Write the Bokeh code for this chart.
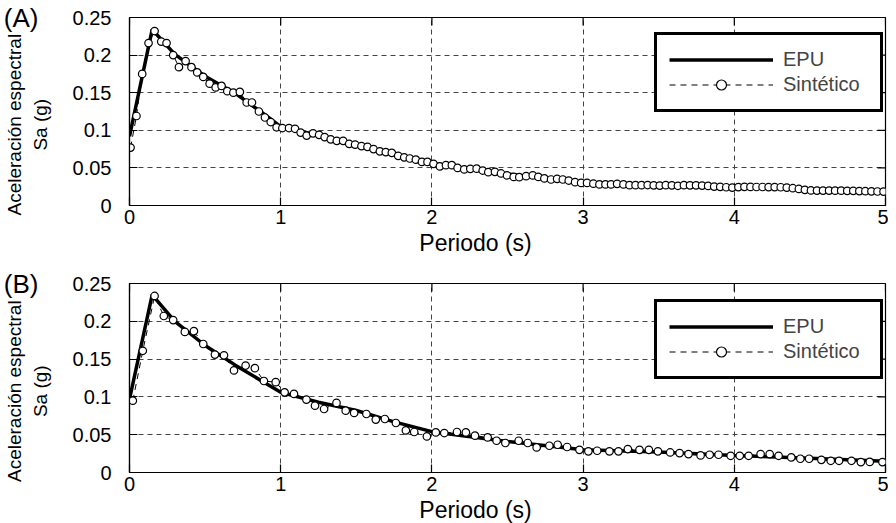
import math
from bokeh.plotting import figure
from bokeh.layouts import column
from bokeh.models import Range1d, FixedTicker, Legend, LegendItem, LinearAxis
from bokeh.embed import file_html
from bokeh.resources import INLINE

# ---------------- data ----------------
x_ticks = [0, 1, 2, 3, 4, 5]
y_ticks = [0, 0.05, 0.1, 0.15, 0.2, 0.25]
y_tick_labels = ["0", "0.05", "0.1", "0.15", "0.2", "0.25"]
y_label_lines = ["Aceleración espectral", "Sa (g)"]
x_label = "Periodo (s)"
panel_tags = ["(A)", "(B)"]
series_names = ["EPU", "Sintético"]

# Panel A
epu_t_a = [0, 0.15, 0.3, 0.5, 0.7, 0.9, 1.0, 1.25, 1.5, 1.75, 2.0, 2.25, 2.5, 2.75,
           3.0, 3.25, 3.5, 3.75, 4.0, 4.25, 4.5, 4.75, 5.0]
epu_sa_a = [0.092, 0.234, 0.201, 0.172, 0.149, 0.120, 0.105, 0.093, 0.081, 0.069,
            0.056, 0.049, 0.042, 0.036, 0.031, 0.028, 0.027, 0.026, 0.024, 0.024,
            0.021, 0.019, 0.018]
syn_t_a = [0.007, 0.046, 0.084, 0.126, 0.166, 0.21, 0.245, 0.289, 0.327, 0.371,
           0.41, 0.448, 0.488, 0.53, 0.57, 0.609, 0.647, 0.687, 0.73, 0.775,
           0.81, 0.856, 0.896, 0.934, 0.973, 1.011, 1.055, 1.095, 1.132, 1.172,
           1.214, 1.254, 1.291, 1.331, 1.371, 1.413, 1.453, 1.492, 1.534, 1.574,
           1.614, 1.656, 1.695, 1.735, 1.777, 1.817, 1.854, 1.894, 1.934, 1.971,
           2.011, 2.053, 2.093, 2.132, 2.170, 2.214, 2.254, 2.296, 2.336, 2.373,
           2.417, 2.457, 2.497, 2.541, 2.578, 2.623, 2.667, 2.704, 2.744, 2.788,
           2.828, 2.866, 2.905, 2.947, 2.987, 3.026, 3.068, 3.108, 3.148, 3.185,
           3.225, 3.267, 3.307, 3.347, 3.387, 3.427, 3.467, 3.507, 3.547, 3.587,
           3.627, 3.667, 3.707, 3.747, 3.787, 3.827, 3.867, 3.907, 3.947, 3.987,
           4.027, 4.067, 4.107, 4.147, 4.187, 4.227, 4.267, 4.307, 4.347, 4.387,
           4.427, 4.467, 4.507, 4.547, 4.587, 4.627, 4.667, 4.707, 4.747, 4.787,
           4.827, 4.867, 4.907, 4.947, 4.987]
syn_sa_a = [0.077, 0.119, 0.175, 0.216, 0.232, 0.218, 0.216, 0.200, 0.184, 0.192,
            0.184, 0.177, 0.171, 0.162, 0.157, 0.159, 0.152, 0.150, 0.151, 0.137,
            0.137, 0.125, 0.117, 0.111, 0.104, 0.103, 0.103, 0.102, 0.097, 0.093,
            0.096, 0.094, 0.091, 0.088, 0.086, 0.086, 0.082, 0.081, 0.079, 0.078,
            0.075, 0.072, 0.071, 0.070, 0.066, 0.064, 0.0625, 0.061, 0.058, 0.058,
            0.0554, 0.052, 0.0536, 0.0536, 0.050, 0.048, 0.0488, 0.049, 0.0465, 0.0443,
            0.0448, 0.0426, 0.040, 0.038, 0.0377, 0.039, 0.040, 0.038, 0.036, 0.0346,
            0.0355, 0.0346, 0.0332, 0.031, 0.030, 0.030, 0.029, 0.028, 0.028, 0.028,
            0.0288, 0.028, 0.027, 0.027, 0.027, 0.0272, 0.0268, 0.0265, 0.027, 0.0268,
            0.0262, 0.027, 0.0268, 0.0268, 0.0265, 0.026, 0.0252, 0.0248, 0.0243, 0.0238,
            0.0245, 0.0248, 0.0247, 0.0246, 0.0246, 0.0245, 0.0245, 0.0243, 0.0238, 0.023,
            0.022, 0.0208, 0.020, 0.0198, 0.0198, 0.0198, 0.0197, 0.0197, 0.0195, 0.0195,
            0.0192, 0.019, 0.0188, 0.0186, 0.0185]

# Panel B
epu_t_b = [0, 0.15, 0.3, 0.5, 0.7, 0.9, 1.0, 1.25, 1.5, 1.75, 2.0, 2.5, 3.0, 3.5,
           4.0, 4.5, 5.0]
epu_sa_b = [0.097, 0.235, 0.200, 0.168, 0.142, 0.118, 0.106, 0.093, 0.082, 0.067,
            0.054, 0.041, 0.030, 0.027, 0.0225, 0.019, 0.0148]
syn_t_b = [0.022, 0.088, 0.166, 0.227, 0.289, 0.366, 0.426, 0.488, 0.565, 0.625,
           0.691, 0.768, 0.829, 0.889, 0.967, 1.026, 1.088, 1.17, 1.227, 1.287,
           1.369, 1.43, 1.486, 1.567, 1.629, 1.689, 1.762, 1.828, 1.883, 1.967,
           2.026, 2.082, 2.166, 2.225, 2.285, 2.369, 2.428, 2.486, 2.574, 2.634,
           2.693, 2.777, 2.832, 2.894, 2.976, 3.035, 3.093, 3.174, 3.234, 3.296,
           3.373, 3.435, 3.495, 3.576, 3.638, 3.697, 3.777, 3.837, 3.896, 3.976,
           4.036, 4.095, 4.174, 4.234, 4.293, 4.377, 4.437, 4.495, 4.576, 4.638,
           4.693, 4.775, 4.837, 4.896, 4.98]
syn_sa_b = [0.095, 0.161, 0.2335, 0.207, 0.2016, 0.186, 0.187, 0.170, 0.156, 0.155,
            0.135, 0.1415, 0.138, 0.121, 0.1195, 0.106, 0.104, 0.0964, 0.0884, 0.084,
            0.092, 0.0818, 0.0788, 0.0774, 0.070, 0.0708, 0.0655, 0.0557, 0.0536, 0.0477,
            0.053, 0.0522, 0.0536, 0.053, 0.0487, 0.0464, 0.042, 0.039, 0.042, 0.039,
            0.0332, 0.0354, 0.0367, 0.0337, 0.030, 0.028, 0.0288, 0.028, 0.028, 0.031,
            0.030, 0.030, 0.028, 0.0265, 0.0257, 0.0244, 0.0226, 0.0235, 0.0235, 0.0221,
            0.0221, 0.0221, 0.0244, 0.0244, 0.0221, 0.020, 0.0182, 0.0182, 0.0168, 0.0155,
            0.0155, 0.0155, 0.0138, 0.014, 0.0138]

FONT = "Liberation Sans"
FS = "20px"
NB = "\u00a0"


def make_panel(tag, t_syn, sa_syn, t_epu, sa_epu, top_border, frame_h, bottom_border):
    p = figure(frame_width=756, frame_height=frame_h,
               x_range=Range1d(0, 5), y_range=Range1d(0, 0.25),
               output_backend="svg", toolbar_location=None,
               min_border_left=121, min_border_right=3,
               min_border_top=top_border, min_border_bottom=bottom_border)
    p.background_fill_color = "white"
    p.border_fill_color = "white"
    p.outline_line_color = "black"
    p.outline_line_width = 1.2
    p.outline_line_alpha = 1

    for ax in (p.xaxis, p.yaxis):
        ax.major_tick_in = 8
        ax.major_tick_out = 0
        ax.minor_tick_line_color = None
        ax.axis_line_color = "black"
        ax.axis_line_width = 1.2
        ax.major_tick_line_width = 1.2
        ax.major_label_text_font = FONT
        ax.major_label_text_font_size = FS
        ax.major_label_text_color = "black"
        ax.axis_label_text_font = FONT
        ax.axis_label_text_font_style = "normal"
        ax.axis_label_text_color = "black"

    p.xaxis.ticker = FixedTicker(ticks=x_ticks)
    p.yaxis.ticker = FixedTicker(ticks=y_ticks)
    p.yaxis.major_label_overrides = {v: s for v, s in zip(y_ticks, y_tick_labels)}
    p.xaxis.major_label_standoff = 4
    p.yaxis.major_label_standoff = 18
    # the reference places the x label left of centre: pad with no-break spaces
    p.xaxis.axis_label = x_label + NB * 10
    p.xaxis.axis_label_text_font_size = "23px"
    p.xaxis.axis_label_standoff = 3
    # y label sits a little below the frame centre in the reference
    p.yaxis.axis_label = "\n".join(s + NB * 5 for s in y_label_lines)
    p.yaxis.axis_label_text_font_size = "19px"
    p.yaxis.axis_label_standoff = 19

    # panel tag "(A)"/"(B)": a label-only axis at the top-left corner
    tag_axis = LinearAxis(ticker=FixedTicker(ticks=[y_ticks[-1]]),
                          major_label_overrides={y_ticks[-1]: tag},
                          axis_line_color=None, major_tick_line_color=None,
                          minor_tick_line_color=None, major_tick_in=0, major_tick_out=0,
                          major_label_standoff=-37,
                          major_label_text_font=FONT, major_label_text_font_size="26px",
                          major_label_text_color="black")
    p.add_layout(tag_axis, "left")

    for g, tl in ((p.xgrid, x_ticks), (p.ygrid, y_ticks)):
        g.ticker = FixedTicker(ticks=tl)
        g.grid_line_color = "#444444"
        g.grid_line_dash = "5 4"
        g.grid_line_width = 1

    # box ticks on right and top (MATLAB style)
    p.ray(x=[x_ticks[-1]] * len(y_ticks), y=y_ticks, length=8, length_units="screen",
          angle=math.pi, line_color="black", line_width=1.2)
    p.ray(x=x_ticks, y=[y_ticks[-1]] * len(x_ticks), length=8, length_units="screen",
          angle=-math.pi / 2, line_color="black", line_width=1.2)

    epu = p.line(t_epu, sa_epu, line_width=3.5, line_color="black")
    syn_line = p.line(t_syn, sa_syn, line_width=1, line_color="black", line_dash="6 5")
    syn_pts = p.scatter(t_syn, sa_syn, marker="circle", size=7.5,
                        fill_color="white", line_color="black", line_width=1.2)

    legend = Legend(items=[LegendItem(label=series_names[0], renderers=[epu]),
                           LegendItem(label=series_names[1], renderers=[syn_line, syn_pts])],
                    location=(525, 93), border_line_color="black", border_line_width=3,
                    border_line_alpha=1,
                    padding=12, spacing=0, glyph_width=104, glyph_height=25,
                    label_height=25, label_width=85, label_standoff=10,
                    label_text_font=FONT, label_text_font_size=FS,
                    background_fill_color="white", background_fill_alpha=1)
    p.add_layout(legend)
    return p


pa = make_panel(panel_tags[0], syn_t_a, syn_sa_a, epu_t_a, epu_sa_a, 17, 188, 59)
pb = make_panel(panel_tags[1], syn_t_b, syn_sa_b, epu_t_b, epu_sa_b, 19, 189, 55)

layout = column(pa, pb, spacing=0)
open("out.html", "w").write(file_html(layout, INLINE))
